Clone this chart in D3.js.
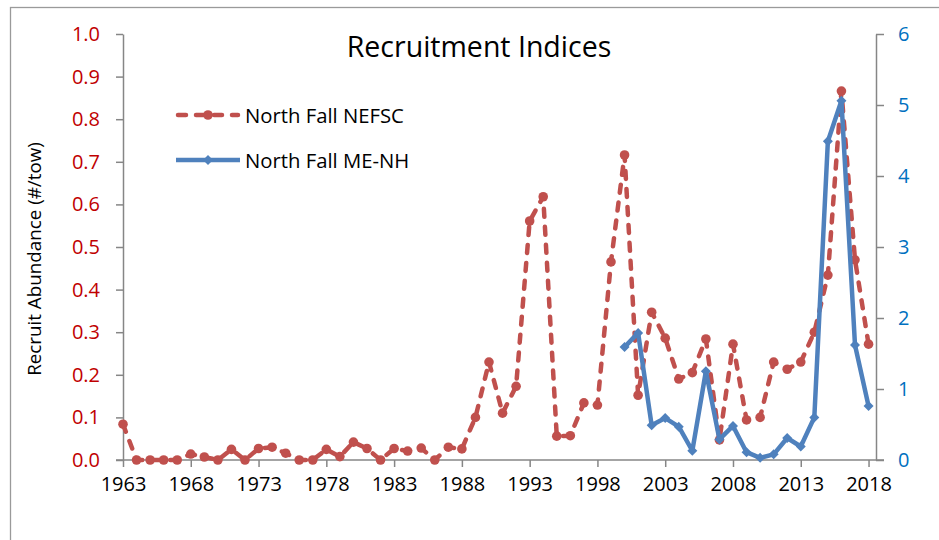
<!DOCTYPE html>
<html>
<head>
<meta charset="utf-8">
<script src="https://cdn.jsdelivr.net/npm/d3@7/dist/d3.min.js"></script>
<style>
  html, body { margin: 0; padding: 0; background: #fff; }
  svg { display: block; }
  text { font-family: "Open Sans", "Liberation Sans", sans-serif; }
</style>
</head>
<body>
<svg id="chart" width="939" height="540"></svg>
<script>
// ---- Data ----
const yearsNEFSC = [1963,1964,1965,1966,1967,1968,1969,1970,1971,1972,1973,1974,1975,1976,1977,1978,1979,1980,1981,1982,1983,1984,1985,1986,1987,1988,1989,1990,1991,1992,1993,1994,1995,1996,1997,1998,1999,2000,2001,2002,2003,2004,2005,2006,2007,2008,2009,2010,2011,2012,2013,2014,2015,2016,2017,2018];
const valuesNEFSC = [0.084,0,0,0,0,0.014,0.007,0,0.025,0,0.027,0.03,0.016,0,0,0.025,0.008,0.042,0.027,0,0.027,0.021,0.028,0,0.03,0.026,0.1,0.23,0.11,0.173,0.561,0.618,0.056,0.057,0.134,0.129,0.465,0.716,0.152,0.347,0.286,0.19,0.205,0.284,0.047,0.272,0.094,0.1,0.23,0.213,0.23,0.3,0.434,0.866,0.47,0.272];
const yearsMENH = [2000,2001,2002,2003,2004,2005,2006,2007,2008,2009,2010,2011,2012,2013,2014,2015,2016,2017,2018];
const valuesMENH = [1.59,1.79,0.49,0.59,0.47,0.13,1.25,0.29,0.48,0.11,0.03,0.08,0.31,0.19,0.6,4.49,5.06,1.62,0.76];
const xTicks = [1963,1968,1973,1978,1983,1988,1993,1998,2003,2008,2013,2018];
const leftTicks = [0,0.1,0.2,0.3,0.4,0.5,0.6,0.7,0.8,0.9,1.0];
const rightTicks = [0,1,2,3,4,5,6];
const seriesNames = ["North Fall NEFSC", "North Fall ME-NH"];
const titleText = "Recruitment Indices";
const yTitle = "Recruit Abundance (#/tow)";

// ---- Layout ----
const svg = d3.select("#chart");
const L = 123, R = 876, T = 34, B = 460;
const red = "#C0504D", blue = "#4F81BD", axisGray = "#868686";

const x = d3.scaleLinear().domain([1963, 2018.55]).range([L, R]);
const yL = d3.scaleLinear().domain([0, 1]).range([B, T]);
const yR = d3.scaleLinear().domain([0, 6]).range([B, T]);

// chart border
svg.append("rect").attr("x", 10.5).attr("y", 7.5).attr("width", 940).attr("height", 540)
  .attr("fill", "none").attr("stroke", "#9a9a9a").attr("stroke-width", 1.3);

// axes
function styleAxis(g) {
  g.selectAll("path.domain").attr("stroke", axisGray).attr("stroke-width", 1.5);
  g.selectAll(".tick line").attr("stroke", axisGray).attr("stroke-width", 1.5);
  g.selectAll("text").style("font-family", '"Open Sans", sans-serif');
}

const gx = svg.append("g").attr("transform", `translate(0,${B})`)
  .call(d3.axisBottom(x).tickValues(xTicks).tickFormat(d3.format("d")).tickSize(7).tickSizeOuter(0).tickPadding(10));
styleAxis(gx);
gx.selectAll("text").attr("fill", "#000").style("font-size", "20px");
gx.select("path.domain").attr("d", `M${L-7},0H${R+8}`);

const gl = svg.append("g").attr("transform", `translate(${L},0)`)
  .call(d3.axisLeft(yL).tickValues(leftTicks).tickFormat(d3.format(".1f")).tickSize(7).tickSizeOuter(0).tickPadding(16));
styleAxis(gl);
gl.selectAll("text").attr("fill", "#C00000").style("font-size", "20px");

const gr = svg.append("g").attr("transform", `translate(${R},0)`)
  .call(d3.axisRight(yR).tickValues(rightTicks).tickFormat(d3.format("d")).tickSize(8).tickSizeOuter(0).tickPadding(14));
styleAxis(gr);
gr.selectAll("text").attr("fill", "#0070C0").style("font-size", "20px");

// series
const nefsc = yearsNEFSC.map((y, i) => ({ year: y, v: valuesNEFSC[i] }));
const menh = yearsMENH.map((y, i) => ({ year: y, v: valuesMENH[i] }));

svg.append("path").datum(nefsc)
  .attr("fill", "none").attr("stroke", red).attr("stroke-width", 4.5)
  .attr("stroke-dasharray", "8,10").attr("stroke-linecap", "round").attr("stroke-linejoin", "round")
  .attr("d", d3.line().x(d => x(d.year)).y(d => yL(d.v)));
svg.append("g").selectAll("circle").data(nefsc).join("circle")
  .attr("cx", d => x(d.year)).attr("cy", d => yL(d.v)).attr("r", 4.8).attr("fill", red);

svg.append("path").datum(menh)
  .attr("fill", "none").attr("stroke", blue).attr("stroke-width", 4.5).attr("stroke-linejoin", "round")
  .attr("d", d3.line().x(d => x(d.year)).y(d => yR(d.v)));
svg.append("g").selectAll("path").data(menh).join("path")
  .attr("transform", d => `translate(${x(d.year)},${yR(d.v)}) rotate(45)`)
  .attr("d", d3.symbol().type(d3.symbolSquare).size(50)).attr("fill", blue);

// title
svg.append("text").attr("x", 479).attr("y", 57).attr("text-anchor", "middle")
  .style("font-size", "28.5px").attr("fill", "#000").text(titleText);

// y axis title
svg.append("text").attr("transform", "translate(41,259) rotate(-90)").attr("text-anchor", "middle")
  .style("font-size", "18.8px").attr("fill", "#000").text(yTitle);

// legend
const lg = svg.append("g");
lg.append("line").attr("x1", 178).attr("x2", 238).attr("y1", 115).attr("y2", 115)
  .attr("stroke", red).attr("stroke-width", 4.5).attr("stroke-dasharray", "8,10").attr("stroke-linecap", "round");
lg.append("circle").attr("cx", 208).attr("cy", 115).attr("r", 4.8).attr("fill", red);
lg.append("text").attr("x", 245).attr("y", 122.5).style("font-size", "20.3px").attr("fill", "#000").text(seriesNames[0]);
lg.append("line").attr("x1", 176).attr("x2", 240).attr("y1", 160).attr("y2", 160)
  .attr("stroke", blue).attr("stroke-width", 4.5);
lg.append("path").attr("transform", "translate(208,160) rotate(45)")
  .attr("d", d3.symbol().type(d3.symbolSquare).size(50)).attr("fill", blue);
lg.append("text").attr("x", 245).attr("y", 167.5).style("font-size", "20.3px").attr("fill", "#000").text(seriesNames[1]);
</script>
</body>
</html>
